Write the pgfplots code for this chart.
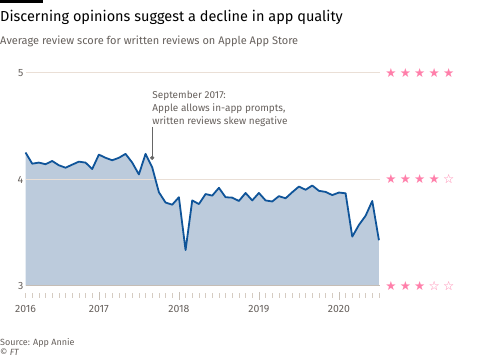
\documentclass[border=0pt]{standalone}
\usepackage{pgfplots}
\usepackage{pgfplotstable}
\pgfplotsset{compat=1.18}
\usepackage{fontspec}
\setmainfont{Fira Sans}
\newfontfamily\symfont{DejaVu Sans}
\definecolor{oxford}{HTML}{0F5499}
\definecolor{fillc}{HTML}{BCCBDC}
\definecolor{gridc}{HTML}{EADFD6}
\definecolor{txt}{HTML}{66605C}
\definecolor{tickc}{HTML}{D6CCC2}
\definecolor{starc}{HTML}{FF7FAA}
\pgfplotstableread{
k v
0 4.25
1 4.145
2 4.155
3 4.14
4 4.17
5 4.13
6 4.107
7 4.136
8 4.164
9 4.155
10 4.095
11 4.23
12 4.2
13 4.177
14 4.2
15 4.237
16 4.155
17 4.044
18 4.237
19 4.11
20 3.877
21 3.78
22 3.76
23 3.83
24 3.334
25 3.8
26 3.766
27 3.86
28 3.845
29 3.918
30 3.83
31 3.826
32 3.795
33 3.87
34 3.80
35 3.87
36 3.80
37 3.79
38 3.84
39 3.82
40 3.877
41 3.93
42 3.90
43 3.94
44 3.89
45 3.88
46 3.85
47 3.874
48 3.867
49 3.46
50 3.57
51 3.656
52 3.795
53 3.426
}\scores
\begin{document}
\begin{tikzpicture}[x=1pt,y=1pt]
\path[use as bounding box] (0,0) rectangle (500,357);
\fill[black] (0,357) rectangle (43,354.3);
\node[anchor=base west, inner sep=0] at (0,335) {\fontsize{14.5}{18}\selectfont Discerning opinions suggest a decline in app quality};
\node[anchor=base west, inner sep=0, text=txt] at (0,312.5) {\fontsize{11}{12}\selectfont Average review score for written reviews on Apple App Store};
\node[anchor=base west, inner sep=0, text=txt] at (0,11.5) {\fontsize{9}{11}\selectfont Source: App Annie};
\node[anchor=base west, inner sep=0, text=txt] at (0,1.5) {\fontsize{9}{11}\selectfont \copyright\ \textit{FT}};
\begin{axis}[
  at={(38.3,60)}, anchor=south west, scale only axis,
  width=353.4pt, height=220.5pt,
  xmin=0, xmax=53, ymin=2.93, ymax=5,
  clip=false,
  axis line style={draw=none},
  xtick=\empty, ytick=\empty,
]
\addplot[fill=fillc, draw=none] table[x=k,y=v]{\scores} |- (axis cs:0,3) -- cycle;
\draw[gridc, line width=0.7pt] (axis cs:0,4) -- (axis cs:53.2,4);
\draw[gridc, line width=0.7pt] (axis cs:0,5) -- (axis cs:53.2,5);
\draw[color=tickc!80!gray, line width=0.7pt] (axis cs:0,3) -- (axis cs:53.2,3);
\pgfplotsinvokeforeach{0,...,53}{
  \draw[tickc, line width=0.6pt] ([yshift=-7.5pt]axis cs:#1,3) -- ([yshift=-12pt]axis cs:#1,3);
}
\pgfplotsinvokeforeach{11,23,35,47}{
  \draw[tickc!85!gray, line width=0.6pt] ([yshift=-6.5pt]axis cs:#1,3) -- ([yshift=-14pt]axis cs:#1,3);
}
\node[text=txt, inner sep=0, font=\fontsize{10.5}{12}\selectfont] at ([yshift=-23pt]axis cs:0,3) {2016};
\node[text=txt, inner sep=0, font=\fontsize{10.5}{12}\selectfont] at ([yshift=-23pt]axis cs:11,3) {2017};
\node[text=txt, inner sep=0, font=\fontsize{10.5}{12}\selectfont] at ([yshift=-23pt]axis cs:23,3) {2018};
\node[text=txt, inner sep=0, font=\fontsize{10.5}{12}\selectfont] at ([yshift=-23pt]axis cs:35,3) {2019};
\node[text=txt, inner sep=0, font=\fontsize{10.5}{12}\selectfont] at ([yshift=-23pt]axis cs:47,3) {2020};
\addplot[oxford, line width=1.8pt, line join=round] table[x=k,y=v]{\scores};
\draw[color=black!60, line width=0.6pt] (axis cs:19,4.49) -- (axis cs:19,4.2);
\addplot[only marks, mark=*, mark size=1.9pt, color=black!60] coordinates {(19,4.2)};
\node[anchor=base west, inner sep=0, text=txt, font=\fontsize{10}{13.3}\selectfont] at (axis cs:19,4.76) {September 2017:};
\node[anchor=base west, inner sep=0, text=txt, font=\fontsize{10}{13.3}\selectfont] at (axis cs:19,4.635) {Apple allows in-app prompts,};
\node[anchor=base west, inner sep=0, text=txt, font=\fontsize{10}{13.3}\selectfont] at (axis cs:19,4.51) {written reviews skew negative};
\end{axis}
\foreach \yy/\lab in {71/3,177.5/4,284/5}{
  \node[anchor=east, inner sep=0, text=txt, font=\fontsize{10.5}{12}\selectfont] at (23.5,\yy) {\lab};
}
\foreach \yy/\nf in {284/5,177.5/4,71/3}{
  \foreach \i in {1,...,5}{
    \ifnum\i>\nf
      \node[inner sep=0, text=starc, font=\symfont\fontsize{12.5}{12}\selectfont] at ({391+(\i-1)*14.4},\yy) {☆};
    \else
      \node[inner sep=0, text=starc, font=\symfont\fontsize{12.5}{12}\selectfont] at ({391+(\i-1)*14.4},\yy) {★};
    \fi
  }
}
\end{tikzpicture}
\end{document}
